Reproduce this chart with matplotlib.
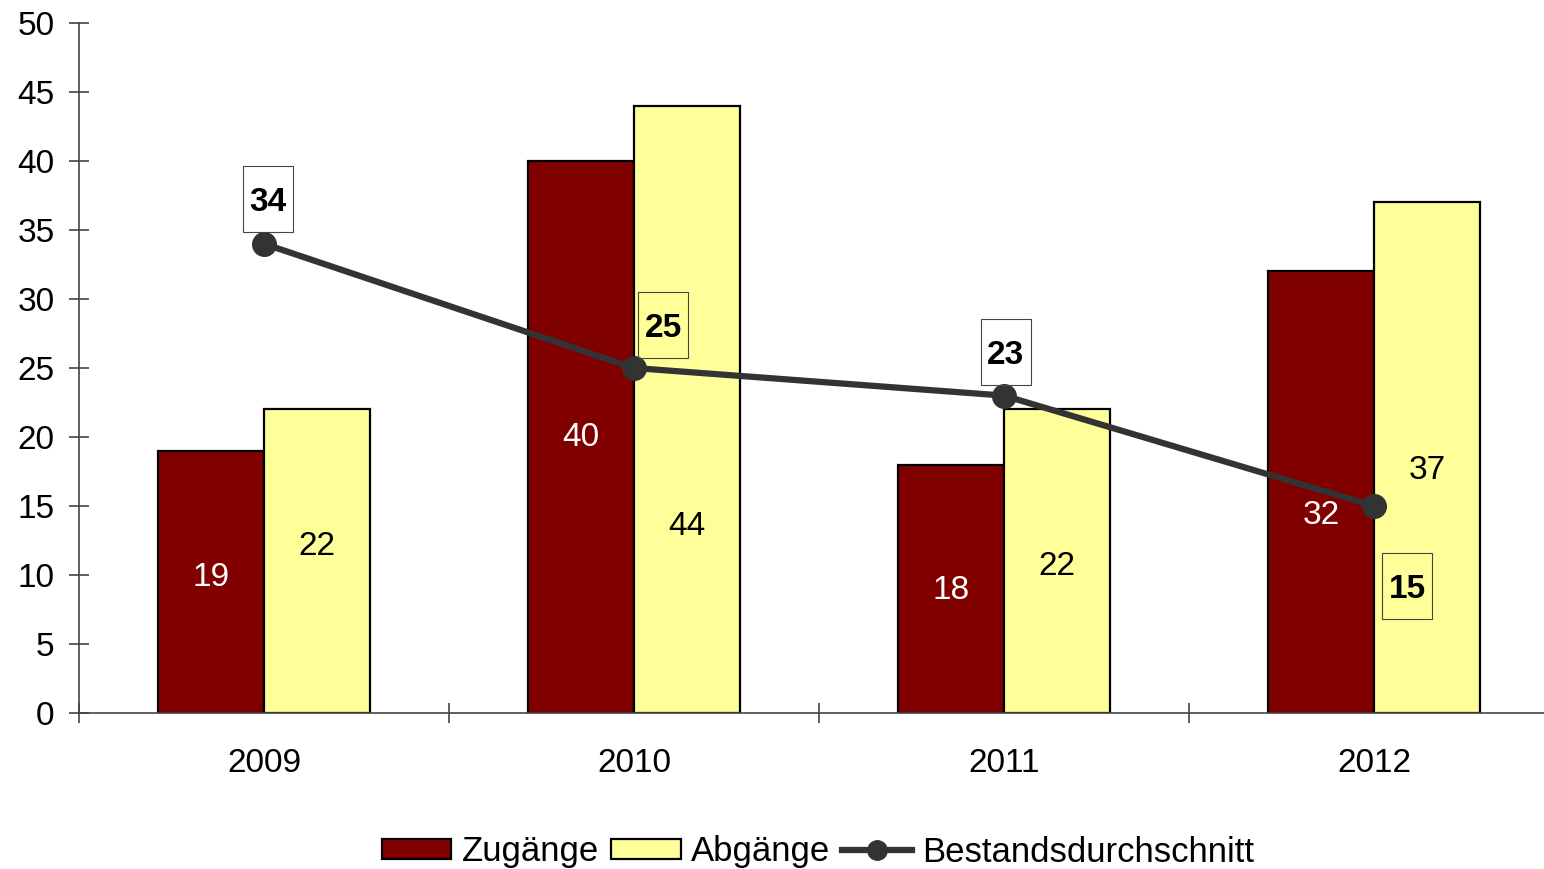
import matplotlib
matplotlib.use("Agg")
import matplotlib.pyplot as plt
from matplotlib.lines import Line2D
from matplotlib.patches import Patch, Rectangle
from matplotlib.transforms import IdentityTransform
import numpy as np

plt.rcParams['font.family'] = ['Liberation Sans', 'DejaVu Sans']

years = ['2009', '2010', '2011', '2012']
zugaenge = [19, 40, 18, 32]
abgaenge = [22, 44, 22, 37]
bestand = [34, 25, 23, 15]

# label positions (data y)
zu_label_y = [9.8, 20.0, 8.9, 14.3]
ab_label_y = [12.1, 13.5, 10.6, 17.6]
# pixel offsets of the boxed line labels (dx right, dy up)
best_off = [(4, 45), (29, 43), (2, 44), (33, -80)]
BOX_W, BOX_H = 50, 66

W, H = 1544, 869
fig = plt.figure(figsize=(W / 100, H / 100), dpi=100)
left, right, top, bottom = 79, 1559, 23, 713
ax = fig.add_axes([left / W, 1 - bottom / H, (right - left) / W, (bottom - top) / H])

x = np.arange(len(years))
bw = 0.287
zcol = '#800000'
acol = '#FFFF99'
lcol = '#333333'

ax.set_xlim(-0.5, 3.5)
ax.set_ylim(0, 50)

ax.bar(x - bw / 2, zugaenge, bw, color=zcol, edgecolor='black', linewidth=1.6, zorder=2)
ax.bar(x + bw / 2, abgaenge, bw, color=acol, edgecolor='black', linewidth=1.6, zorder=2)
ax.plot(x, bestand, color=lcol, linewidth=4.5, marker='o', markersize=17, zorder=4)

for i in range(len(years)):
    ax.text(x[i] - bw / 2, zu_label_y[i], str(zugaenge[i]), color='white', fontsize=24,
            ha='center', va='center', zorder=5)
    ax.text(x[i] + bw / 2, ab_label_y[i], str(abgaenge[i]), color='black', fontsize=24,
            ha='center', va='center', zorder=5)
    px, py = ax.transData.transform((x[i], bestand[i]))
    cx, cy = px + best_off[i][0], py + best_off[i][1]
    fig.patches.append(Rectangle((cx - BOX_W / 2, cy - BOX_H / 2), BOX_W, BOX_H,
                                 transform=IdentityTransform(), facecolor='none',
                                 edgecolor='#444444', linewidth=0.8, zorder=3, figure=fig))
    ax.annotate(str(bestand[i]), (x[i], bestand[i]),
                xytext=(best_off[i][0] * 0.72, best_off[i][1] * 0.72 - 2.5), textcoords='offset points',
                ha='center', va='center', fontsize=24, fontweight='bold', zorder=6)

ax.set_yticks(range(0, 51, 5))
ax.set_xticks([])
ax.set_xticks(np.arange(-0.5, 3.6, 1.0), minor=True)
for i, y in enumerate(years):
    ax.text(x[i], -3.65, y, ha='center', va='center', fontsize=24)
ax.tick_params(axis='y', direction='inout', length=15, width=1.2, color='#444444',
               labelsize=24, pad=10)
ax.tick_params(axis='x', which='minor', direction='inout', length=15, width=1.2, color='#444444')
for s in ['top', 'right']:
    ax.spines[s].set_visible(False)
for s in ['left', 'bottom']:
    ax.spines[s].set_color('#444444')
    ax.spines[s].set_linewidth(1.2)

handles = [Patch(facecolor=zcol, edgecolor='black', linewidth=1.6, label='Zugänge'),
           Patch(facecolor=acol, edgecolor='black', linewidth=1.6, label='Abgänge'),
           Line2D([], [], color=lcol, linewidth=4.5, marker='o', markersize=14, label='Bestandsdurchschnitt')]
fig.legend(handles=handles, loc='center', bbox_to_anchor=(818 / W, 1 - 852 / H), ncol=3,
           frameon=False, fontsize=25, handlelength=2.0, handleheight=0.5,
           handletextpad=0.3, columnspacing=0.35, borderpad=0)

fig.savefig('out.png', dpi=100)
